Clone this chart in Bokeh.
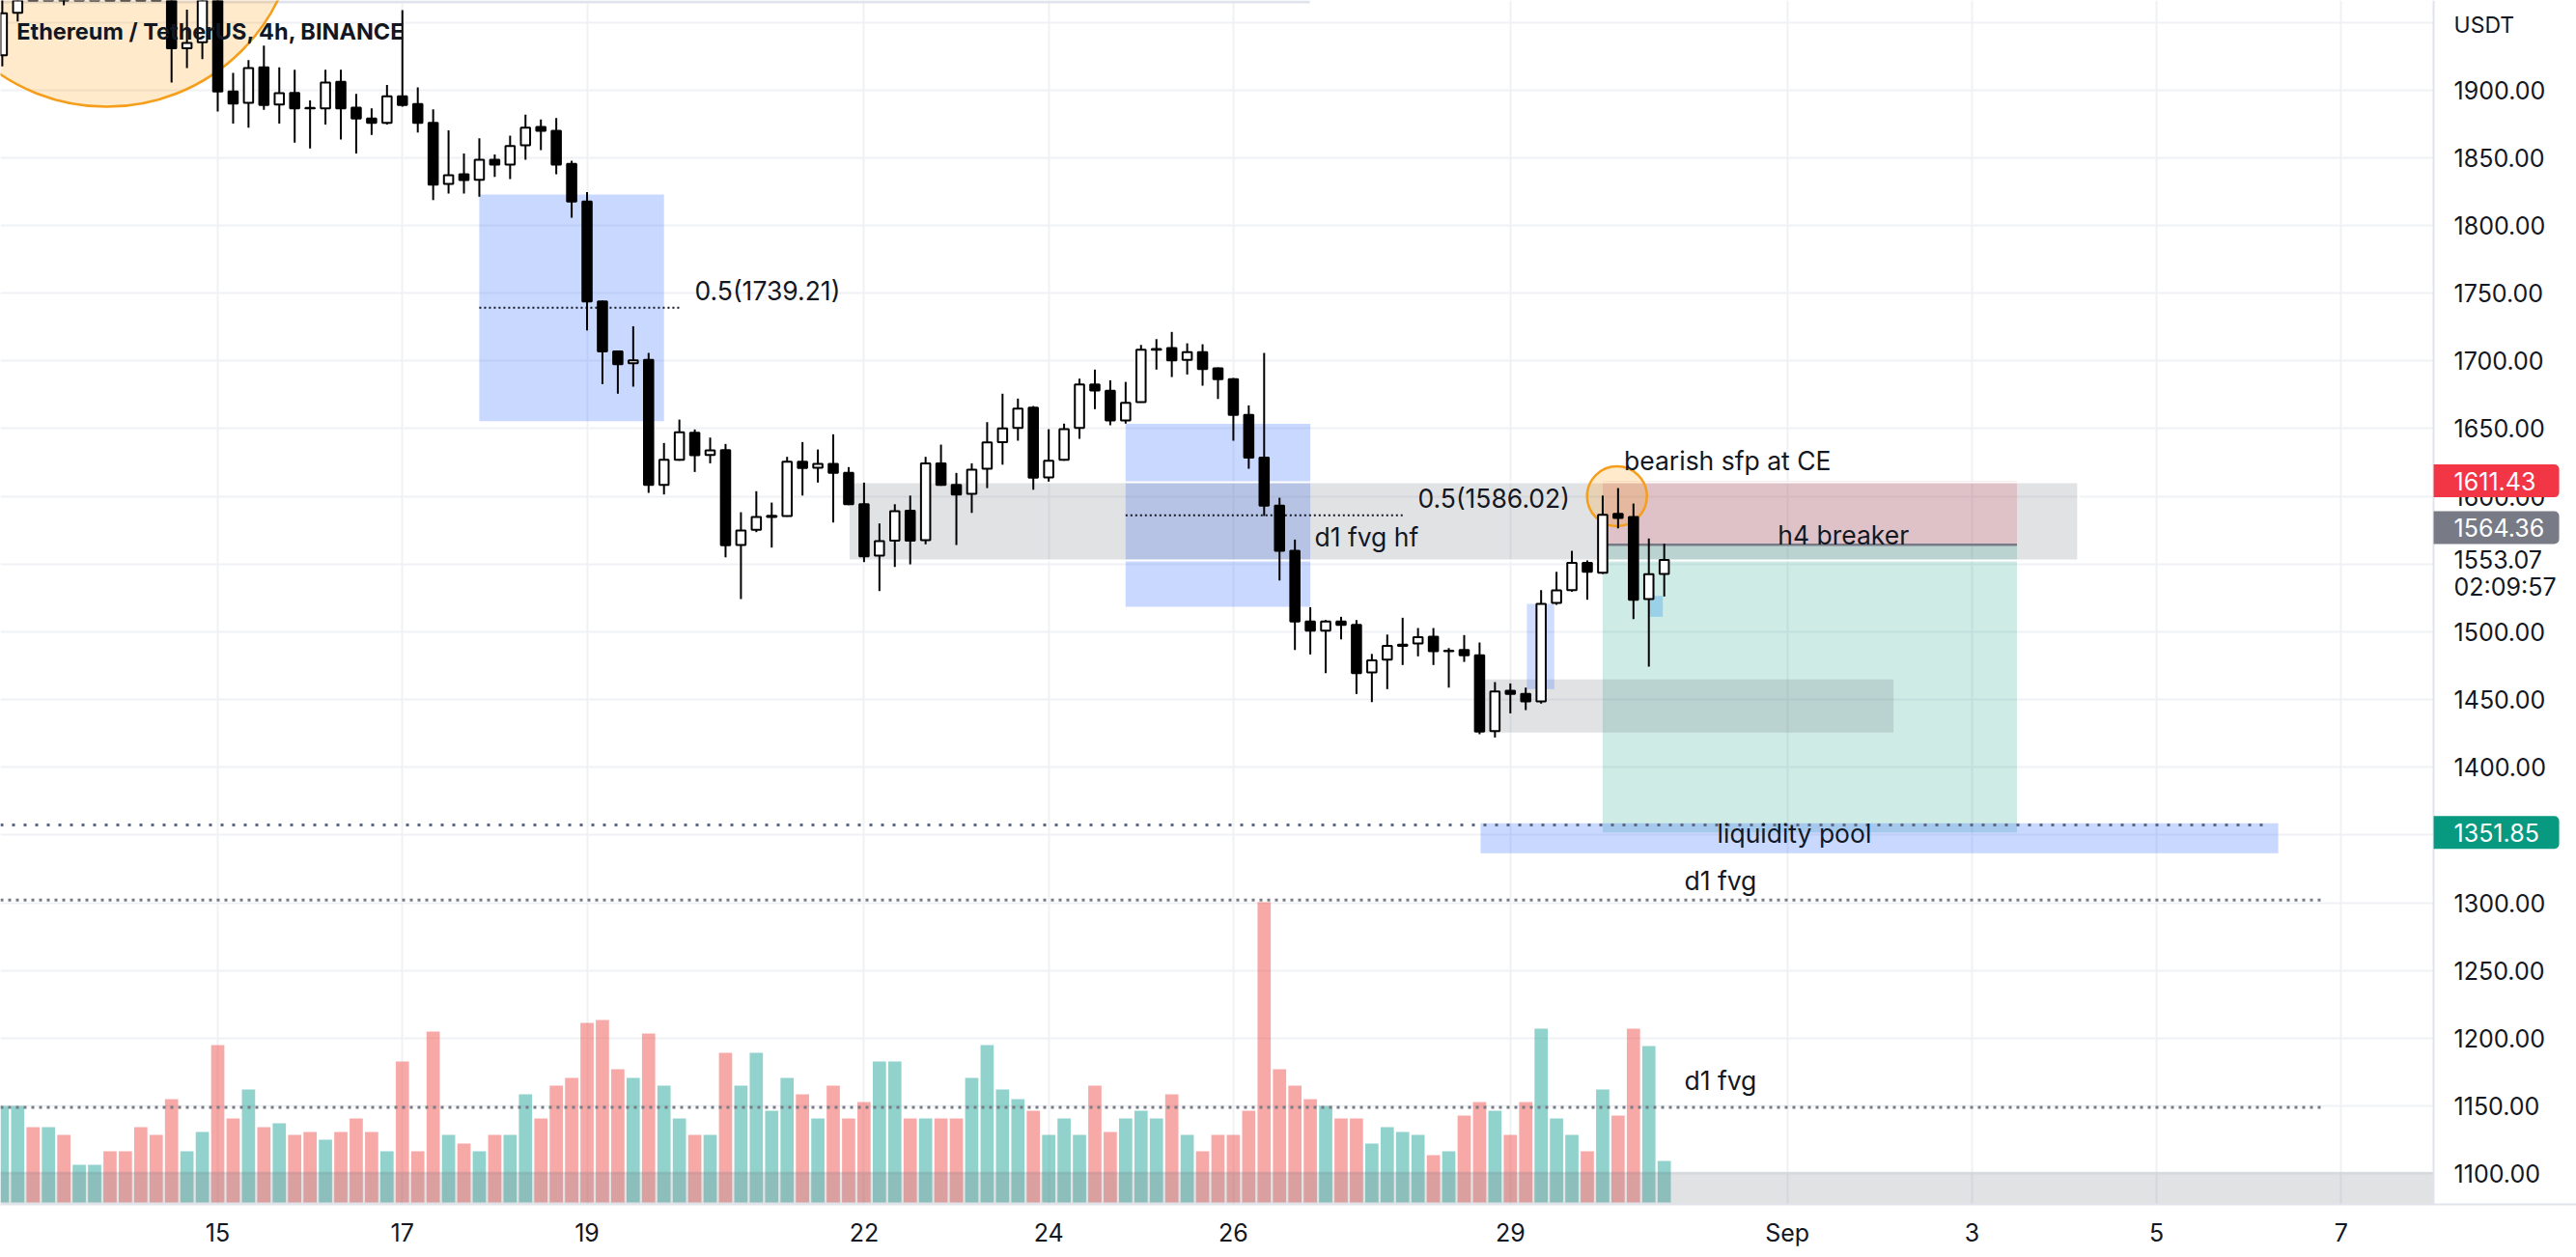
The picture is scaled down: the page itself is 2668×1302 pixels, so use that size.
import pandas as pd
from bokeh.plotting import figure
from bokeh.models import Range1d, FixedTicker, LinearAxis
from bokeh.embed import file_html
from bokeh.resources import INLINE
from bokeh.core.properties import value

# ---------------- data (ETH/USDT 4h, Binance) ----------------
start_time = "2022-08-12 16:00"
opens = [1925.7, 1957.0, 1985.0, 1975.0, 1988.0, 1975.0, 1985.0, 1995.0, 1990.0, 1982.0,
         1976.0, 1974.0, 1930.9, 1935.2, 1975.0, 1898.9, 1890.5, 1916.7, 1889.3, 1897.9,
         1886.8, 1886.5, 1906.0, 1887.0, 1878.9, 1875.8, 1895.3, 1889.6, 1875.8, 1830.6,
         1837.8, 1833.7, 1848.5, 1844.9, 1859.2, 1872.7, 1869.9, 1845.4, 1817.6, 1743.9,
         1707.1, 1698.3, 1700.7, 1608.5, 1627.0, 1647.0, 1630.6, 1634.1, 1564.1, 1575.3,
         1584.8, 1585.5, 1625.6, 1621.1, 1624.0, 1617.3, 1594.2, 1556.2, 1567.4, 1589.5,
         1567.6, 1624.4, 1608.5, 1601.9, 1620.4, 1640.1, 1650.5, 1665.5, 1614.0, 1627.0,
         1650.5, 1682.6, 1677.9, 1656.0, 1669.6, 1708.3, 1709.5, 1700.7, 1706.4, 1694.5,
         1686.5, 1660.1, 1628.7, 1593.1, 1559.8, 1507.6, 1500.9, 1507.6, 1505.1, 1470.0,
         1479.5, 1489.7, 1491.4, 1496.4, 1485.7, 1486.6, 1482.6, 1426.7, 1456.4, 1454.1,
         1448.6, 1521.3, 1530.8, 1551.0, 1543.6, 1587.1, 1584.7, 1524.2, 1542.7]
highs = [1972.0, 1990.0, 1995.0, 1992.0, 1996.0, 1990.0, 2000.0, 2010.0, 1998.0, 1990.0,
         1988.0, 1980.0, 1959.4, 1985.0, 1982.0, 1912.6, 1922.1, 1932.8, 1916.7, 1915.0,
         1892.4, 1915.0, 1915.0, 1897.1, 1886.5, 1903.8, 1958.9, 1901.9, 1885.7, 1870.3,
         1853.2, 1864.4, 1852.5, 1866.3, 1881.8, 1878.2, 1879.3, 1847.8, 1824.7, 1744.5,
         1707.5, 1725.6, 1705.9, 1639.4, 1656.7, 1649.4, 1643.4, 1638.7, 1588.3, 1603.8,
         1595.4, 1629.2, 1640.1, 1634.6, 1645.8, 1621.6, 1610.2, 1580.0, 1594.2, 1600.6,
         1629.2, 1638.2, 1617.3, 1624.4, 1654.8, 1675.8, 1672.2, 1666.7, 1649.6, 1653.7,
         1686.9, 1693.6, 1685.7, 1684.5, 1711.8, 1716.1, 1721.4, 1713.0, 1712.3, 1695.2,
         1687.4, 1667.2, 1705.9, 1599.0, 1568.1, 1518.2, 1508.7, 1511.1, 1508.7, 1483.7,
         1498.0, 1510.4, 1502.8, 1502.8, 1488.0, 1497.6, 1492.1, 1462.9, 1461.9, 1458.8,
         1530.8, 1544.3, 1559.8, 1552.7, 1600.6, 1606.1, 1594.7, 1568.9, 1565.0]
lows = [1917.4, 1950.6, 1972.0, 1970.0, 1962.5, 1970.0, 1980.0, 1985.0, 1978.0, 1972.0,
        1968.0, 1905.5, 1916.2, 1922.8, 1884.1, 1875.3, 1872.2, 1885.3, 1875.3, 1861.1,
        1856.8, 1874.6, 1863.4, 1853.2, 1866.8, 1874.6, 1887.7, 1868.6, 1818.7, 1823.5,
        1823.5, 1821.2, 1835.9, 1834.2, 1848.5, 1855.6, 1837.8, 1805.7, 1722.5, 1682.9,
        1675.8, 1681.0, 1602.6, 1601.4, 1626.3, 1618.0, 1624.4, 1555.0, 1524.2, 1573.6,
        1562.2, 1585.0, 1600.6, 1610.2, 1580.7, 1593.5, 1551.5, 1530.1, 1547.9, 1549.8,
        1564.6, 1607.8, 1564.1, 1587.8, 1606.1, 1623.4, 1641.1, 1604.9, 1610.9, 1626.3,
        1642.5, 1664.4, 1652.5, 1653.7, 1669.2, 1693.6, 1688.1, 1690.0, 1681.7, 1671.9,
        1641.1, 1620.4, 1585.5, 1537.9, 1486.6, 1483.3, 1469.5, 1494.4, 1454.1, 1448.1,
        1457.7, 1475.5, 1481.9, 1475.5, 1458.8, 1477.8, 1424.4, 1422.0, 1439.8, 1442.2,
        1447.0, 1519.9, 1529.6, 1523.7, 1542.7, 1576.4, 1509.4, 1474.3, 1526.1]
closes = [1956.6, 1985.0, 1975.0, 1988.0, 1975.0, 1985.0, 1995.0, 1990.0, 1982.0, 1976.0,
          1974.0, 1930.9, 1934.7, 1975.0, 1898.9, 1890.0, 1916.2, 1888.9, 1897.6, 1886.5,
          1886.4, 1905.5, 1886.5, 1878.9, 1875.8, 1895.3, 1888.9, 1875.8, 1830.2, 1837.1,
          1833.5, 1848.5, 1844.9, 1858.7, 1872.2, 1869.9, 1844.9, 1817.6, 1743.9, 1707.1,
          1697.6, 1700.4, 1608.5, 1627.0, 1647.3, 1630.4, 1633.9, 1563.9, 1574.8, 1584.8,
          1585.6, 1625.6, 1620.9, 1624.0, 1617.3, 1594.2, 1555.7, 1566.9, 1589.0, 1567.4,
          1624.4, 1608.5, 1601.4, 1619.7, 1639.8, 1650.1, 1664.8, 1613.8, 1626.3, 1649.6,
          1682.6, 1678.1, 1656.0, 1669.1, 1708.3, 1708.8, 1700.4, 1706.4, 1694.0, 1686.5,
          1660.1, 1628.7, 1593.1, 1559.8, 1507.6, 1500.9, 1507.6, 1505.1, 1469.5, 1479.0,
          1489.7, 1490.5, 1496.1, 1485.7, 1486.1, 1482.6, 1426.3, 1455.9, 1454.1, 1448.6,
          1520.6, 1530.6, 1551.0, 1544.3, 1586.4, 1584.0, 1523.7, 1542.5, 1553.07]
volumes_k = [100, 100, 78, 78, 70, 39, 39, 53, 53, 78,
             70, 107, 53, 73, 163, 87, 117, 78, 82, 70,
             73, 65, 73, 87, 73, 53, 146, 53, 177, 70,
             61, 53, 70, 70, 112, 87, 121, 129, 186, 189,
             138, 129, 175, 121, 87, 70, 70, 155, 121, 155,
             95, 129, 112, 87, 121, 87, 104, 146, 146, 87,
             87, 87, 87, 129, 163, 117, 107, 95, 70, 87,
             70, 121, 73, 87, 95, 87, 112, 70, 53, 70,
             70, 95, 311, 138, 121, 107, 100, 87, 87, 61,
             78, 73, 70, 49, 53, 90, 104, 95, 70, 104,
             180, 87, 70, 53, 117, 90, 180, 162, 43]

# price levels of the drawings
fvg4h_top, fvg4h_bottom = 1822.8, 1655.6
fvg4h_b_top, fvg4h_b_bottom = 1653.5, 1518.5
d1_hf_top, d1_hf_bottom = 1610.5, 1552.7
low_box_top, low_box_bottom = 1464.8, 1425.6
small_fvg_top, small_fvg_bottom = 1520.6, 1457.7
tiny_fvg_top, tiny_fvg_bottom = 1526.5, 1511.1
stop_price, entry_price, target_price = 1611.43, 1564.36, 1351.85
last_price = 1553.07
countdown = "02:09:57"
liquidity_level = 1357.5
liq_box_top, liq_box_bottom = 1358.6, 1336.5
d1_fvg_levels = [1302.0, 1149.0]
band_top = 1101.3
price_ticks = list(range(1100, 1901, 50))
date_ticks = [15, 17, 19, 22, 24, 26, 29, 32, 34, 36, 38]
date_labels = ["15", "17", "19", "22", "24", "26", "29", "Sep", "3", "5", "7"]

# ---------------- derived ----------------
t0 = pd.Timestamp("2022-08-01")
times = pd.date_range(start_time, periods=len(opens), freq="4h")
xs = [1 + (t - t0) / pd.Timedelta(days=1) for t in times]
up = [c >= o for o, c in zip(opens, closes)]

FONT = value("Inter")
TXT = "#131722"

X0 = 12.647          # left edge of the chart
XA = 39.0            # price-scale border
X1 = 40.547          # right edge of the page
PX = 95.63           # pixels per day
Y0, Y1 = 1077.3, 1966.1

p = figure(width=2668, height=1302, x_range=Range1d(X0, X1), y_range=Range1d(Y0, Y1),
           output_backend="svg", toolbar_location=None, y_axis_location=None,
           min_border_left=0, min_border_top=0, min_border_right=0, min_border_bottom=55)
p.outline_line_color = None
p.background_fill_color = "white"
p.border_fill_color = "white"
p.extra_y_ranges = {"vol": Range1d(-2, 1245)}

# grid
p.xgrid.ticker = FixedTicker(ticks=date_ticks)
p.ygrid.ticker = FixedTicker(ticks=price_ticks + [1950])
for g in (p.xgrid, p.ygrid):
    g.grid_line_color = "#EFF1F4"
    g.grid_line_width = 2

# price scale (right), drawn at the scale border
ya = LinearAxis(fixed_location=XA)
p.add_layout(ya, "right")
ya.ticker = FixedTicker(ticks=price_ticks)
ya.major_label_overrides = {v: f"{v:.2f}" for v in price_ticks}
ya.major_label_overrides[1550] = ""
ya.major_label_standoff = 21

xa = p.xaxis[0]
xa.ticker = FixedTicker(ticks=date_ticks)
xa.major_label_overrides = {d: l for d, l in zip(date_ticks, date_labels)}
xa.major_label_standoff = 14

for ax in (xa, ya):
    ax.axis_line_color = "#E0E3EB"
    ax.axis_line_width = 2
    ax.major_tick_line_color = None
    ax.minor_tick_line_color = None
    ax.major_tick_out = 0
    ax.major_tick_in = 0
    ax.major_label_text_font = "Inter"
    ax.major_label_text_font_size = "25px"
    ax.major_label_text_color = TXT

# white price-scale area (hides the grid there)
p.quad(left=[XA], right=[X1], top=[Y1], bottom=[Y0], fill_color="white", line_color=None)

# top strip
p.quad(left=[X0], right=[26.827], top=[Y1], bottom=[1964.0], fill_color="#E0E3EB", line_color=None)

# volume
vcol = ["#26A69A" if u else "#EF5350" for u in up]
p.vbar(x=xs, width=0.143, top=volumes_k, bottom=0, y_range_name="vol",
       fill_color=vcol, fill_alpha=0.5, line_color=None)
p.quad(left=[X0], right=[XA], top=[band_top], bottom=[1000], fill_color="#787B86",
       fill_alpha=0.22, line_color=None)

# drawings (boxes)
blue = "#2962FF"
p.quad(left=[17.833, 24.833], right=[19.833, 26.833], top=[fvg4h_top, fvg4h_b_top],
       bottom=[fvg4h_bottom, fvg4h_b_bottom], fill_color=blue, fill_alpha=0.25, line_color=None)
p.quad(left=[30.0], right=[34.487], top=[stop_price], bottom=[entry_price],
       fill_color="#F23645", fill_alpha=0.2, line_color=None)
p.quad(left=[30.0], right=[34.487], top=[entry_price], bottom=[target_price],
       fill_color="#089981", fill_alpha=0.2, line_color=None)
p.quad(left=[21.833], right=[35.15], top=[d1_hf_top], bottom=[d1_hf_bottom],
       fill_color="#787B86", fill_alpha=0.22, line_color="white", line_width=2)
p.quad(left=[28.725], right=[33.15], top=[low_box_top], bottom=[low_box_bottom],
       fill_color="#787B86", fill_alpha=0.22, line_color=None)
p.quad(left=[29.179], right=[29.476], top=[small_fvg_top], bottom=[small_fvg_bottom],
       fill_color=blue, fill_alpha=0.22, line_color=None)
p.quad(left=[30.51], right=[30.651], top=[tiny_fvg_top], bottom=[tiny_fvg_bottom],
       fill_color="#2196F3", fill_alpha=0.3, line_color=None)
p.quad(left=[28.678], right=[37.317], top=[liq_box_top], bottom=[liq_box_bottom],
       fill_color=blue, fill_alpha=0.25, line_color=None)
p.segment(x0=[30.0], y0=[entry_price], x1=[34.487], y1=[entry_price],
          line_color="#787B86", line_width=2.5)

# horizontal dotted levels
p.segment(x0=[X0, X0], y0=d1_fvg_levels, x1=[37.785, 37.785], y1=d1_fvg_levels,
          line_color="#787B86", line_width=3, line_dash="3 5")
p.segment(x0=[X0], y0=[liquidity_level], x1=[37.148], y1=[liquidity_level],
          line_color="#5B6780", line_width=3, line_dash="3 9")
# fib 0.5 lines
mid_a = (fvg4h_top + fvg4h_bottom) / 2
mid_b = 1586.02
p.segment(x0=[17.833, 24.833], y0=[mid_a, mid_b], x1=[20.0, 27.833], y1=[mid_a, mid_b],
          line_color=TXT, line_width=2, line_dash="2 3")

# circles
p.scatter(x=[13.797], y=[2028.4], size=395, marker="circle", fill_color="#FF9800",
          fill_alpha=0.2, line_color="#F59E1B", line_width=2.5)
p.scatter(x=[30.155], y=[1600.1], size=62, marker="circle", fill_color="#FF9800",
          fill_alpha=0.2, line_color="#F59E1B", line_width=2.5)

# candles
bw = 0.1
p.segment(x0=xs, y0=lows, x1=xs, y1=highs, line_color="black", line_width=2)
p.vbar(x=xs, width=bw, top=[max(o, c) for o, c in zip(opens, closes)],
       bottom=[min(o, c) for o, c in zip(opens, closes)],
       fill_color=["white" if u else "black" for u in up], line_color="black", line_width=2)

# texts
p.text(x=[12.822], y=[1943.3], text=["Ethereum / TetherUS, 4h, BINANCE"], text_font=FONT,
       text_font_size="23.5px", text_font_style="bold", text_color=TXT,
       text_align="left", text_baseline="middle")
p.text(x=[20.166, 27.998, 26.879, 30.231, 31.896, 30.884, 30.884],
       y=[1752.2, 1598.6, 1570.5, 1626.4, 1571.9, 1316.1, 1169.2],
       text=["0.5(1739.21)", "0.5(1586.02)", "d1 fvg hf", "bearish sfp at CE", "h4 breaker",
             "d1 fvg", "d1 fvg"],
       text_font=FONT, text_font_size="26.5px", text_color=TXT,
       text_align="left", text_baseline="middle")
p.text(x=[32.076], y=[1351.7], text=["liquidity pool"], text_font=FONT, text_font_size="26.5px",
       text_color=TXT, text_align="center", text_baseline="middle")

# price-scale badges and labels (above the axis labels)
tx_x = XA + 21 / PX
half = 17 / 1.403
badge_y = [stop_price, 1576.9, target_price]
badge_txt = [f"{stop_price:.2f}", f"{entry_price:.2f}", f"{target_price:.2f}"]
badge_col = ["#F23645", "#787B86", "#089981"]
p.quad(left=[XA] * 3, right=[XA + 130 / PX] * 3, top=[y + half for y in badge_y],
       bottom=[y - half for y in badge_y], fill_color=badge_col, line_color=None,
       border_radius=(0, 5, 5, 0), level="overlay")
p.text(x=[tx_x] * 3, y=badge_y, text=badge_txt, text_font=FONT, text_font_size="25px",
       text_color="white", text_align="left", text_baseline="middle", level="overlay")
p.text(x=[tx_x, tx_x], y=[last_price, 1533.2], text=[f"{last_price:.2f}", countdown],
       text_font=FONT, text_font_size="25px", text_color=TXT, text_align="left",
       text_baseline="middle", level="overlay")
p.text(x=[tx_x], y=[1948.2], text=["USDT"], text_font=FONT, text_font_size="23px",
       text_color=TXT, text_align="left", text_baseline="middle", level="overlay")

open("out.html", "w").write(file_html(p, INLINE))
